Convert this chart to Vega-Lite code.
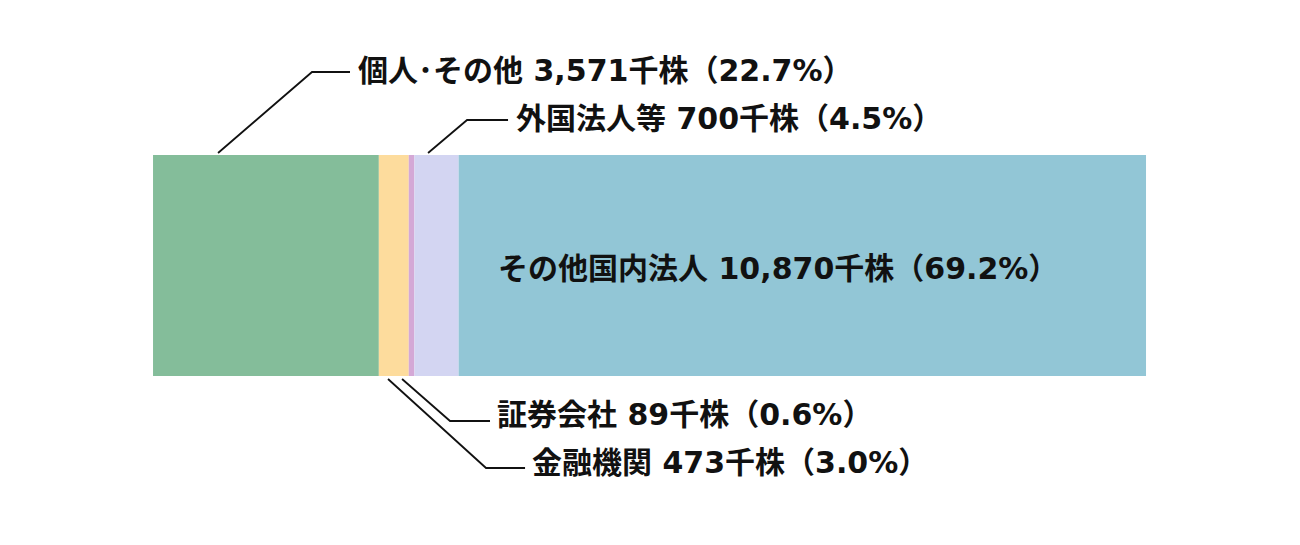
{
  "$schema": "https://vega.github.io/schema/vega-lite/v6.json",
  "width": 1300,
  "height": 545,
  "autosize": {"type": "fit", "contains": "padding"},
  "padding": 0,
  "background": "white",
  "config": {"view": {"stroke": null}},
  "datasets": {
    "segments": [
      {"category": "個人・その他", "value": 3571, "order": 1},
      {"category": "金融機関", "value": 473, "order": 2},
      {"category": "証券会社", "value": 89, "order": 3},
      {"category": "外国法人等", "value": 700, "order": 4},
      {"category": "その他国内法人", "value": 10870, "order": 5}
    ],
    "leaders": [
      {"label": "個人・その他", "x": 1028, "y": 153, "step": 1},
      {"label": "個人・その他", "x": 2514, "y": 72, "step": 2},
      {"label": "個人・その他", "x": 3115, "y": 72, "step": 3},
      {"label": "外国法人等", "x": 4349, "y": 153, "step": 1},
      {"label": "外国法人等", "x": 4966, "y": 120, "step": 2},
      {"label": "外国法人等", "x": 5614, "y": 120, "step": 3},
      {"label": "証券会社", "x": 3938, "y": 379, "step": 1},
      {"label": "証券会社", "x": 4697, "y": 421, "step": 2},
      {"label": "証券会社", "x": 5329, "y": 421, "step": 3},
      {"label": "金融機関", "x": 3716, "y": 379, "step": 1},
      {"label": "金融機関", "x": 5266, "y": 468, "step": 2},
      {"label": "金融機関", "x": 5883, "y": 468, "step": 3}
    ],
    "labels": [
      {"text": "個人･その他 3,571千株（22.7%）", "x": 3242, "y": 72},
      {"text": "外国法人等 700千株（4.5%）", "x": 5740, "y": 120},
      {"text": "証券会社 89千株（0.6%）", "x": 5440, "y": 416},
      {"text": "金融機関 473千株（3.0%）", "x": 5993, "y": 464},
      {"text": "その他国内法人 10,870千株（69.2%）", "x": 5456, "y": 270}
    ]
  },
  "layer": [
    {
      "data": {"name": "segments"},
      "transform": [
        {"stack": "value", "groupby": [], "sort": [{"field": "order"}], "as": ["x0", "x1"]},
        {"calculate": "155", "as": "top"},
        {"calculate": "376", "as": "bottom"}
      ],
      "mark": {"type": "rect"},
      "encoding": {
        "x": {"field": "x0", "type": "quantitative", "scale": {"domain": [-2420, 18138], "nice": false, "zero": false}, "axis": null},
        "x2": {"field": "x1"},
        "y": {"field": "top", "type": "quantitative", "scale": {"domain": [0, 545], "reverse": true, "nice": false, "zero": false}, "axis": null},
        "y2": {"field": "bottom"},
        "color": {
          "field": "category",
          "type": "nominal",
          "scale": {
            "domain": ["個人・その他", "金融機関", "証券会社", "外国法人等", "その他国内法人"],
            "range": ["#84bd9a", "#fddc9d", "#d4a8d6", "#d3d5f2", "#92c6d6"]
          },
          "legend": null
        }
      }
    },
    {
      "data": {"name": "leaders"},
      "mark": {"type": "line", "color": "#111111", "strokeWidth": 1.8},
      "encoding": {
        "x": {"field": "x", "type": "quantitative"},
        "y": {"field": "y", "type": "quantitative"},
        "detail": {"field": "label"},
        "order": {"field": "step"}
      }
    },
    {
      "data": {"name": "labels"},
      "mark": {"type": "text", "align": "left", "baseline": "middle", "font": "DejaVu Sans, Noto Sans CJK JP", "fontSize": 30, "fontWeight": "bold", "color": "#111111"},
      "encoding": {
        "x": {"field": "x", "type": "quantitative"},
        "y": {"field": "y", "type": "quantitative"},
        "text": {"field": "text"}
      }
    }
  ]
}
